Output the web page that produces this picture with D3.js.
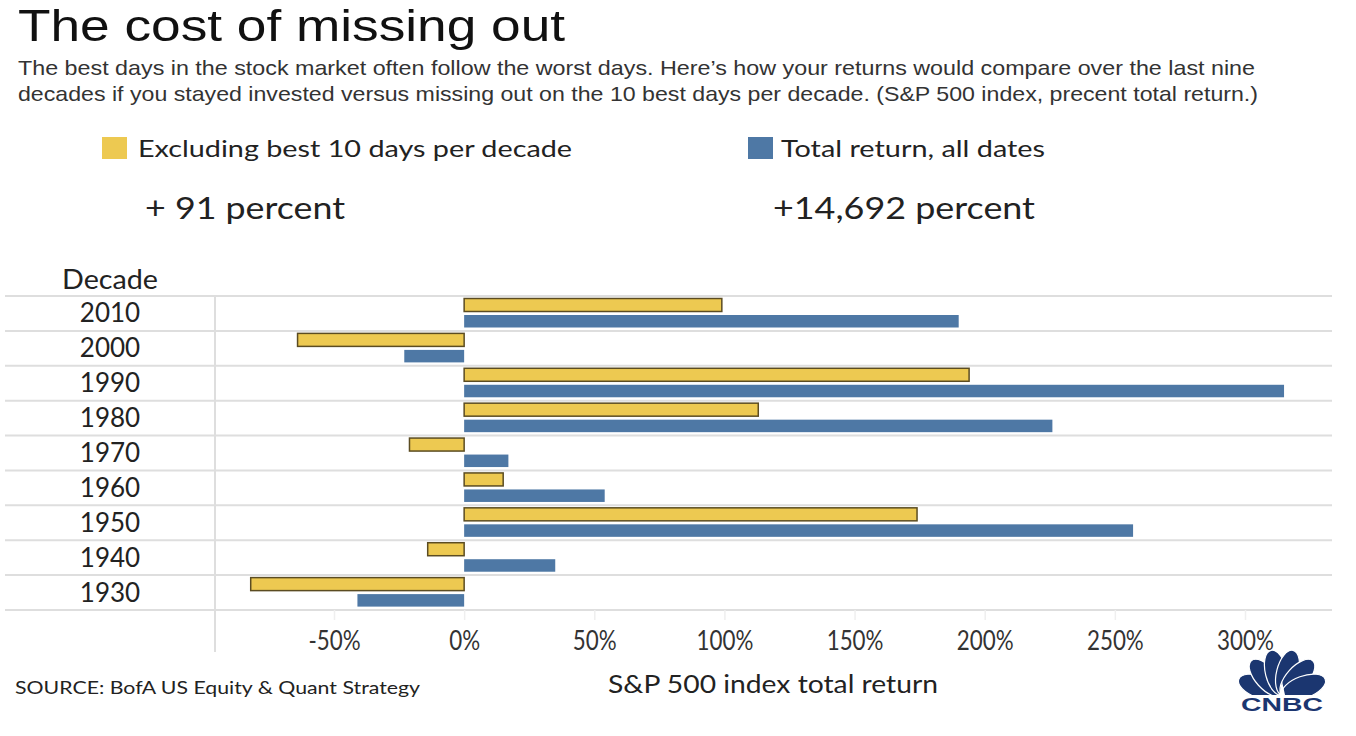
<!DOCTYPE html>
<html><head><meta charset="utf-8">
<script src="https://cdn.jsdelivr.net/npm/d3@7"></script>
<style>body{margin:0;background:#fff}svg{display:block}</style>
</head><body>
<svg id="c" width="1356" height="736"></svg>
<script>
const decades = ["2010","2000","1990","1980","1970","1960","1950","1940","1930"];
const excludingBest = [99,-64,194,113,-21,15,174,-14,-82];
const totalReturn = [190,-23,315,226,17,54,257,35,-41];
const tickValues = [-50,0,50,100,150,200,250,300];
const seriesNames = ["Excluding best 10 days per decade","Total return, all dates"];
const seriesTotals = ["+ 91 percent","+14,692 percent"];

const svg = d3.select("#c");
const YEL = "#edc951", BLUE = "#4e78a5", GRID = "#dedede";

function fit(sel, w){ sel.attr("textLength", w).attr("lengthAdjust","spacingAndGlyphs"); }
function condense(sel, f){ sel.each(function(){ const l=this.getComputedTextLength(); d3.select(this).attr("textLength", l*f).attr("lengthAdjust","spacingAndGlyphs"); }); }

// Title
svg.append("text").attr("x",18).attr("y",41).attr("font-family","Liberation Sans, Arial, sans-serif")
  .attr("font-size",45).attr("fill","#111").text("The cost of missing out").call(fit,547);
const sub = ["The best days in the stock market often follow the worst days. Here\u2019s how your returns would compare over the last nine",
             "decades if you stayed invested versus missing out on the 10 best days per decade. (S&P 500 index, precent total return.)"];
svg.append("text").attr("x",18).attr("y",75).attr("font-family","Liberation Sans, Arial, sans-serif")
  .attr("font-size",21).attr("fill","#333").text(sub[0]).call(fit,1237);
svg.append("text").attr("x",18).attr("y",101).attr("font-family","Liberation Sans, Arial, sans-serif")
  .attr("font-size",21).attr("fill","#333").text(sub[1]).call(fit,1240);

// Legend
const leg = [{c:YEL,x:102,tx:138,w:434,vx:145,vw:200},{c:BLUE,x:748,tx:781,w:264,vx:773,vw:262}];
leg.forEach((l,i)=>{
  svg.append("rect").attr("x",l.x).attr("y",137).attr("width",25).attr("height",22).attr("fill",l.c);
  svg.append("text").attr("x",l.tx).attr("y",157).attr("font-family","Lato, sans-serif").attr("font-size",24)
    .attr("fill","#222").text(seriesNames[i]).call(fit,l.w);
  svg.append("text").attr("x",l.vx).attr("y",219).attr("font-family","Lato, sans-serif").attr("font-size",30)
    .attr("fill","#222").text(seriesTotals[i]).call(fit,l.vw);
});

// Scales
const x = d3.scaleLinear().domain([-50,300]).range([334,1245]);
const y = d3.scaleBand().domain(decades).range([296,610]).paddingInner(0).paddingOuter(0);
const step = y.step();

// Gridlines
const lines = decades.map(d=>y(d)).concat([610]);
svg.append("g").selectAll("line").data(lines).join("line")
  .attr("x1",5).attr("x2",1332).attr("y1",d=>d).attr("y2",d=>d).attr("stroke",GRID).attr("stroke-width",2);
svg.append("line").attr("x1",215).attr("x2",215).attr("y1",296).attr("y2",652).attr("stroke",GRID).attr("stroke-width",2);

// Axis
const ax = svg.append("g").attr("transform","translate(0,610)")
  .call(d3.axisBottom(x).tickValues(tickValues).tickFormat(d=>d+"%").tickSize(10).tickPadding(12));
ax.select(".domain").remove();
ax.selectAll(".tick line").attr("stroke","#efefef").attr("stroke-width",1.5);
ax.selectAll(".tick text").attr("font-family","Lato, sans-serif").attr("font-size",26).attr("fill","#333").call(condense,0.86);

// Decade labels
svg.append("text").attr("x",110).attr("y",289).attr("text-anchor","middle").attr("font-family","Lato, sans-serif")
  .attr("font-size",26).attr("fill","#222").text("Decade").call(fit,96);
svg.append("g").selectAll("text").data(decades).join("text")
  .attr("x",110).attr("y",d=>y(d)+step/2+9).attr("text-anchor","middle").attr("font-family","Lato, sans-serif")
  .attr("font-size",26).attr("fill","#222").text(d=>d);

// Bars
const g = svg.append("g");
g.selectAll("rect.y").data(decades).join("rect").attr("class","y")
  .attr("x",(d,i)=>x(Math.min(0,excludingBest[i]))).attr("width",(d,i)=>Math.abs(x(excludingBest[i])-x(0)))
  .attr("y",d=>y(d)+2.5).attr("height",13).attr("fill",YEL).attr("stroke","#5b4c22").attr("stroke-width",1.5);
g.selectAll("rect.b").data(decades).join("rect").attr("class","b")
  .attr("x",(d,i)=>x(Math.min(0,totalReturn[i]))).attr("width",(d,i)=>Math.abs(x(totalReturn[i])-x(0)))
  .attr("y",d=>y(d)+19).attr("height",12.5).attr("fill",BLUE);

// Footer
svg.append("text").attr("x",15).attr("y",694).attr("font-family","Lato, sans-serif").attr("font-size",18)
  .attr("fill","#222").text("SOURCE: BofA US Equity & Quant Strategy").call(fit,405);
svg.append("text").attr("x",773).attr("y",693).attr("text-anchor","middle").attr("font-family","Lato, sans-serif")
  .attr("font-size",25).attr("fill","#222").text("S&P 500 index total return").call(fit,330);

// CNBC logo
const NAVY = "#1b3670";
const lg = svg.append("g").attr("transform","translate(1282,695)");
[-70,-42,-14,14,42,70].forEach(a=>{
  lg.append("ellipse").attr("cx",0).attr("cy",-23).attr("rx",11).attr("ry",23)
    .attr("transform",`rotate(${a})`).attr("fill",NAVY).attr("stroke","#fff").attr("stroke-width",1.2);
});
lg.append("rect").attr("x",-50).attr("y",0).attr("width",100).attr("height",6).attr("fill","#fff");
lg.append("path").attr("d","M-3,0 L0,-14 L3,0 Z").attr("fill","#fff");
svg.append("text").attr("x",1241).attr("y",711).attr("font-family","Liberation Sans, Arial, sans-serif").attr("font-weight","bold")
  .attr("font-size",18).attr("fill",NAVY).text("CNBC").call(fit,82);
</script>
</body></html>
